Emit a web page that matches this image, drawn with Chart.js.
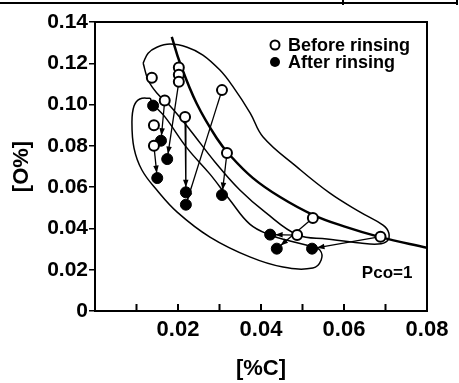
<!DOCTYPE html>
<html>
<head>
<meta charset="utf-8">
<script src="https://cdn.jsdelivr.net/npm/chart.js@4.4.0/dist/chart.umd.min.js"></script>
<style>
  html, body { margin: 0; padding: 0; background: #fff; }
</style>
</head>
<body>
<canvas id="rinseChart" width="459" height="383"></canvas>
<script>
// readings: [%C] on x, [O%] on y
const beforeC = [0.0137, 0.0202, 0.0202, 0.0202, 0.0168, 0.0217, 0.0142, 0.0142, 0.0306, 0.0318, 0.0525, 0.0487, 0.0688];
const beforeO = [0.1130, 0.1180, 0.1145, 0.1110, 0.1020, 0.0940, 0.0900, 0.0800, 0.1070, 0.0765, 0.0450, 0.0368, 0.0360];
const afterC = [0.0140, 0.0159, 0.0174, 0.0150, 0.0219, 0.0219, 0.0306, 0.0422, 0.0438, 0.0523];
const afterO = [0.0995, 0.0825, 0.0736, 0.0644, 0.0575, 0.0515, 0.0562, 0.0370, 0.0302, 0.0302];

// arrows: [index in before, index in after]
const arrowPairs = [[3, 2], [4, 1], [7, 3], [5, 4], [8, 5], [9, 6], [11, 7], [10, 8], [12, 9]];

// Pco=1 line
const pcoC = [0.0185, 0.0205, 0.0245, 0.0293, 0.0325, 0.0380, 0.0446, 0.0525, 0.0600, 0.0687, 0.0800];
const pcoO = [0.1328, 0.1200, 0.1005, 0.0838, 0.0755, 0.0645, 0.0552, 0.0466, 0.0410, 0.0358, 0.0306];

// hand drawn envelopes
const beforeLoopC = [0.0116, 0.0128, 0.0149, 0.0181, 0.0222, 0.0260, 0.0301, 0.0330, 0.0374, 0.0405, 0.0487, 0.0566, 0.0639, 0.0694, 0.0708, 0.0704, 0.0682, 0.0639, 0.0559, 0.0489, 0.0410, 0.0349, 0.0289, 0.0229, 0.0181, 0.0149, 0.0128, 0.0116];
const beforeLoopO = [0.1201, 0.1249, 0.1278, 0.1293, 0.1278, 0.1240, 0.1167, 0.1094, 0.0959, 0.0843, 0.0697, 0.0571, 0.0479, 0.0416, 0.0378, 0.0339, 0.0324, 0.0329, 0.0349, 0.0368, 0.0479, 0.0586, 0.0722, 0.0877, 0.0993, 0.1056, 0.1119, 0.1201];
const afterLoopC = [0.0133, 0.0108, 0.0094, 0.0089, 0.0094, 0.0113, 0.0149, 0.0198, 0.0277, 0.0373, 0.0453, 0.0525, 0.0545, 0.0542, 0.0518, 0.0470, 0.0422, 0.0373, 0.0325, 0.0277, 0.0222, 0.0169, 0.0140, 0.0133];
const afterLoopO = [0.1031, 0.1027, 0.0993, 0.0915, 0.0789, 0.0683, 0.0586, 0.0479, 0.0358, 0.0262, 0.0213, 0.0208, 0.0247, 0.0295, 0.0315, 0.0339, 0.0368, 0.0421, 0.0538, 0.0663, 0.0789, 0.0939, 0.1002, 0.1031];

const xLabels = ['0.02', '0.04', '0.06', '0.08'];
const pcoLabel = 'Pco=1';

const pts = (xs, ys) => xs.map((x, i) => ({ x: x, y: ys[i] }));

Chart.defaults.font.family = '"Liberation Sans", Arial, sans-serif';
Chart.defaults.color = '#000';

const arrowSets = arrowPairs.map(p => ({
    label: 'arrow',
    data: [{ x: beforeC[p[0]], y: beforeO[p[0]] }, { x: afterC[p[1]], y: afterO[p[1]] }],
    showLine: true,
    borderColor: '#000',
    borderWidth: 1.3,
    pointRadius: 0,
    isArrow: true,
}));

const extras = {
    id: 'extras',
    afterDatasetsDraw(chart) {
        const { ctx, chartArea: a, scales: { x, y } } = chart;
        ctx.save();
        ctx.strokeStyle = '#000';
        ctx.fillStyle = '#000';

        // arrow heads
        chart.data.datasets.forEach(ds => {
            if (!ds.isArrow) return;
            const x0 = x.getPixelForValue(ds.data[0].x), y0 = y.getPixelForValue(ds.data[0].y);
            const x1 = x.getPixelForValue(ds.data[1].x), y1 = y.getPixelForValue(ds.data[1].y);
            const ang = Math.atan2(y1 - y0, x1 - x0);
            const tx = x1 - Math.cos(ang) * 5, ty = y1 - Math.sin(ang) * 5;
            ctx.beginPath();
            ctx.moveTo(tx, ty);
            ctx.lineTo(tx - Math.cos(ang - 0.35) * 8, ty - Math.sin(ang - 0.35) * 8);
            ctx.lineTo(tx - Math.cos(ang + 0.35) * 8, ty - Math.sin(ang + 0.35) * 8);
            ctx.closePath();
            ctx.fill();
        });

        // top and right frame
        ctx.lineWidth = 2;
        ctx.beginPath();
        ctx.moveTo(a.left, a.top);
        ctx.lineTo(a.right, a.top);
        ctx.lineTo(a.right, a.bottom);
        ctx.stroke();

        // inner x ticks
        x.ticks.forEach(t => {
            if (t.value <= 0.0001 || t.value >= 0.0799) return;
            const px = x.getPixelForValue(t.value);
            ctx.beginPath();
            ctx.moveTo(px, a.bottom);
            ctx.lineTo(px, a.bottom - 7);
            ctx.stroke();
        });

        // legend
        const ds0 = chart.data.datasets[0], ds1 = chart.data.datasets[1];
        ctx.font = 'bold 18px "Liberation Sans", Arial, sans-serif';
        ctx.textBaseline = 'middle';
        ctx.textAlign = 'left';
        ctx.lineWidth = 2;
        ctx.beginPath();
        ctx.arc(275, 45, 4.5, 0, Math.PI * 2);
        ctx.fillStyle = '#fff';
        ctx.fill();
        ctx.stroke();
        ctx.fillStyle = '#000';
        ctx.fillText(ds0.label, 288, 46);
        ctx.beginPath();
        ctx.arc(275, 62, 5, 0, Math.PI * 2);
        ctx.fill();
        ctx.fillText(ds1.label, 288, 63);

        // Pco label
        ctx.font = 'bold 17px "Liberation Sans", Arial, sans-serif';
        ctx.fillText(pcoLabel, x.getPixelForValue(0.0643), y.getPixelForValue(0.0184));

        // scrap of the table above the figure
        ctx.lineWidth = 2;
        ctx.beginPath();
        ctx.moveTo(0, 3);
        ctx.lineTo(457, 3);
        ctx.moveTo(343, 0);
        ctx.lineTo(343, 5);
        ctx.moveTo(457, 0);
        ctx.lineTo(457, 5);
        ctx.stroke();
        ctx.restore();
    }
};

new Chart(document.getElementById('rinseChart').getContext('2d'), {
    type: 'scatter',
    data: {
        datasets: [
            {
                label: 'Before rinsing',
                data: pts(beforeC, beforeO),
                pointRadius: 5,
                pointBackgroundColor: '#fff',
                pointBorderColor: '#000',
                pointBorderWidth: 2,
            },
            {
                label: 'After rinsing',
                data: pts(afterC, afterO),
                pointRadius: 5.5,
                pointBackgroundColor: '#000',
                pointBorderColor: '#000',
                pointBorderWidth: 1,
            },
            {
                label: 'Pco=1',
                data: pts(pcoC, pcoO),
                showLine: true,
                borderColor: '#000',
                borderWidth: 2.5,
                pointRadius: 0,
                tension: 0.4,
            },
            {
                label: 'before envelope',
                data: pts(beforeLoopC, beforeLoopO),
                showLine: true,
                borderColor: '#000',
                borderWidth: 1.5,
                pointRadius: 0,
                tension: 0.4,
            },
            {
                label: 'after envelope',
                data: pts(afterLoopC, afterLoopO),
                showLine: true,
                borderColor: '#000',
                borderWidth: 1.5,
                pointRadius: 0,
                tension: 0.4,
            },
            ...arrowSets,
        ],
    },
    options: {
        responsive: false,
        animation: false,
        devicePixelRatio: 1,
        layout: { padding: { left: 0, right: 32, top: 22, bottom: 0 } },
        plugins: {
            legend: { display: false },
            tooltip: { enabled: false },
        },
        scales: {
            x: {
                type: 'linear',
                min: 0,
                max: 0.08,
                afterFit: s => { s.height = 72; },
                border: { display: true, color: '#000', width: 2 },
                grid: { display: true, drawOnChartArea: false, drawTicks: false },
                ticks: {
                    stepSize: 0.01,
                    autoSkip: false,
                    maxRotation: 0,
                    padding: 6,
                    font: { size: 22, weight: 'bold' },
                    callback: v => {
                        const s = v.toFixed(2);
                        return xLabels.includes(s) ? s : '';
                    },
                },
                title: {
                    display: true,
                    text: '[%C]',
                    font: { size: 22, weight: 'bold' },
                    padding: { top: 0, bottom: 1 },
                },
            },
            y: {
                type: 'linear',
                min: 0,
                max: 0.14,
                afterFit: s => { s.width = 95; },
                border: { display: true, color: '#000', width: 2 },
                grid: { drawOnChartArea: false, drawTicks: true, tickLength: 6, color: '#000', lineWidth: 1.5 },
                ticks: {
                    stepSize: 0.02,
                    padding: 1,
                    font: { size: 21, weight: 'bold' },
                    callback: v => (v === 0 ? '0' : v.toFixed(2)),
                },
                title: {
                    display: true,
                    text: '[O%]',
                    font: { size: 22, weight: 'bold' },
                    padding: { top: 9, bottom: 0 },
                },
            },
        },
    },
    plugins: [extras],
});
</script>
</body>
</html>
